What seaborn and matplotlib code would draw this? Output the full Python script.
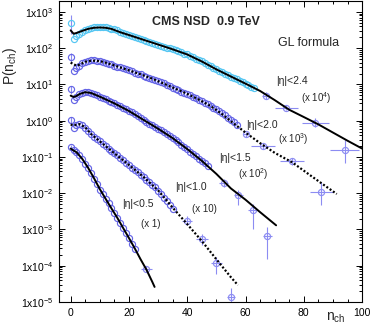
import numpy as np
import matplotlib
matplotlib.use("Agg")
import matplotlib.pyplot as plt
import seaborn as sns
from matplotlib.ticker import FuncFormatter, FixedLocator, MultipleLocator, NullFormatter

# ---------------- data ----------------
# |eta|<2.4 (x 10^4)
n24 = list(range(0, 64))
p24 = [490, 182, 214, 251, 288, 316, 339, 355, 372, 380, 380, 380, 372, 363, 347, 331,
       309, 288, 269, 251, 234, 219, 205, 192, 180, 170, 160, 150, 141, 133, 126, 118,
       111, 104, 98, 93, 87, 81, 76, 71, 67, 61, 56, 51, 47, 43, 39, 35, 32, 29, 26, 24,
       22, 19.8, 18.0, 16.5, 15.0, 13.7, 12.5, 11.4, 10.5, 9.5, 8.7, 7.9]
n24_sp = [67, 74, 84, 94]
p24_sp = [4.9, 2.3, 0.89, 0.16]
xe24_sp = [1.5, 4, 4.5, 5]
lo24_sp = [4.0, 2.0, 0.65, 0.07]
hi24_sp = [6.0, 2.7, 1.2, 0.30]
f24_n = [0, 1, 2, 4, 6, 8, 10, 12, 14, 17, 20, 25, 30, 35, 40, 45, 50, 55, 60, 65, 70, 75, 80, 85, 90, 95, 100]
f24_p = [310, 250, 262, 300, 340, 365, 372, 365, 340, 275, 230, 170, 126, 93, 67, 43, 26, 16.5,
         10.5, 6.6, 3.7, 2.0, 1.26, 0.79, 0.47, 0.28, 0.17]

# |eta|<2.0 (x 10^3)
n20 = list(range(0, 58))
p20 = [56, 23, 28, 33, 38, 42, 45, 46, 46, 45, 43, 41, 39, 37, 35.5, 33, 31, 29.5, 27.5, 26,
       24.5, 23, 21, 20, 19, 17.5, 16.3, 15.2, 14.4, 13.3, 12.3, 11.4, 10.7, 9.8, 8.9, 8.2,
       7.6, 6.9, 6.3, 5.9, 5.5, 5.0, 4.6, 4.2, 3.8, 3.45, 3.1, 2.8, 2.55, 2.3, 2.05, 1.8, 1.6,
       1.4, 1.2, 1.05, 0.92, 0.78]
n20_sp = [60, 66, 76, 86]
p20_sp = [0.42, 0.20, 0.076, 0.0105]
xe20_sp = [1, 4, 4, 4]
lo20_sp = [0.36, 0.17, 0.06, 0.0048]
hi20_sp = [0.50, 0.24, 0.095, 0.021]
f20_n = [0, 1, 2, 3, 5, 7, 9, 11, 14, 17, 20, 24, 28, 32, 36, 40, 44, 48, 52, 56, 60, 65, 70, 76, 82, 87, 91.3]
f20_p = [40, 36, 33, 35, 42, 45, 45, 42, 35.5, 29.5, 24.5, 19, 14.4, 10.5, 7.6, 5.5, 3.8, 2.55,
         1.5, 0.83, 0.47, 0.24, 0.13, 0.071, 0.032, 0.0166, 0.0095]

# |eta|<1.5 (x 10^2)
n15 = list(range(0, 48))
p15 = [7.4, 3.7, 4.5, 5.4, 5.9, 6.2, 6.0, 5.75, 5.4, 5.0, 4.6, 4.25, 3.9, 3.55, 3.3, 3.0,
       2.75, 2.5, 2.3, 2.05, 1.86, 1.70, 1.51, 1.35, 1.20, 1.05, 0.93, 0.83, 0.74, 0.68, 0.60,
       0.54, 0.48, 0.43, 0.38, 0.34, 0.29, 0.25, 0.22, 0.19, 0.166, 0.141, 0.123, 0.105,
       0.089, 0.078, 0.066, 0.056]
n15_sp = [52.5, 57.5, 62.5, 67.5]
p15_sp = [0.019, 0.0087, 0.0035, 0.00066]
xe15_sp = [1.5, 1.5, 1.5, 1.5]
lo15_sp = [0.015, 0.0048, 0.00105, 0.00015]
hi15_sp = [0.024, 0.0126, 0.0049, 0.00117]
f15_n = [0, 1, 2, 3, 5, 7, 10, 15, 20, 25, 30, 35, 40, 45, 50, 55, 60, 65, 70.5]
f15_p = [4.9, 4.5, 4.8, 5.4, 6.1, 5.8, 4.6, 3.0, 1.85, 1.05, 0.60, 0.33, 0.165, 0.078,
         0.034, 0.0135, 0.0066, 0.0030, 0.0013]

# |eta|<1.0 (x 10)
n10 = list(range(0, 36))
p10 = [1.05, 0.63, 0.76, 0.79, 0.74, 0.63, 0.51, 0.42, 0.36, 0.31, 0.27, 0.23, 0.20, 0.17,
       0.148, 0.126, 0.110, 0.093, 0.081, 0.069, 0.060, 0.051, 0.044, 0.038, 0.032, 0.0275,
       0.0234, 0.020, 0.017, 0.0145, 0.0117, 0.0095, 0.0076, 0.0060, 0.0048, 0.0037]
n10_sp = [40, 45, 50, 55]
p10_sp = [0.00174, 0.00054, 0.000115, 1.35e-5]
xe10_sp = [1.8, 2, 2, 1.5]
lo10_sp = [0.0013, 0.00038, 5.9e-5, 1.0e-5]
hi10_sp = [0.0023, 0.00075, 0.00017, 2.5e-5]
f10_n = [0, 1, 2, 3, 5, 7, 10, 15, 20, 25, 30, 35, 40, 45, 50, 55, 57.4]
f10_p = [0.78, 0.74, 0.78, 0.80, 0.66, 0.43, 0.27, 0.126, 0.060, 0.028, 0.012, 0.0040,
         0.0014, 0.00048, 0.00015, 4.8e-5, 2.9e-5]

# |eta|<0.5 (x 1)
n05 = list(range(0, 23))
p05 = [0.186, 0.158, 0.138, 0.112, 0.085, 0.063, 0.048, 0.036, 0.025, 0.0174, 0.0126,
       0.0093, 0.0071, 0.0054, 0.0039, 0.0028, 0.0021, 0.0015, 0.0011, 0.00081, 0.00059,
       0.00040, 0.00028]
n05_sp = [26]
p05_sp = [8.3e-5]
xe05_sp = [2]
lo05_sp = [7.0e-5]
hi05_sp = [1.0e-4]
f05_n = [0, 1, 2, 4, 6, 8, 10, 12, 14, 16, 18, 20, 22, 24, 26, 28, 28.8]
f05_p = [0.17, 0.15, 0.135, 0.088, 0.05, 0.026, 0.013, 0.0070, 0.0038, 0.0021, 0.0011,
         0.00058, 0.00030, 0.00015, 7.8e-5, 3.6e-5, 2.6e-5]

# first-bin error bars (n = 0)
first_lo = [250, 40, 5.5, 0.85, 0.16]
first_hi = [800, 72, 9.3, 1.25, 0.21]

labels = ["|η|<2.4", "|η|<2.0", "|η|<1.5", "|η|<1.0", "|η|<0.5"]
scales = ["(x 10$^4$)", "(x 10$^3$)", "(x 10$^2$)", "(x 10)", "(x 1)"]
x_ticks = [0, 20, 40, 60, 80, 100]
y_exps = [-5, -4, -3, -2, -1, 0, 1, 2, 3]

# ---------------- style ----------------
sns.set_theme(style="ticks")
plt.rcParams["font.family"] = ["Liberation Sans", "DejaVu Sans"]
plt.rcParams["mathtext.fontset"] = "custom"
plt.rcParams["mathtext.rm"] = "Liberation Sans"
plt.rcParams["mathtext.it"] = "Liberation Sans:italic"
plt.rcParams["mathtext.bf"] = "Liberation Sans:bold"

fig = plt.figure(figsize=(3.71, 3.30), dpi=100)
ax = fig.add_axes([0.159, 0.085, 0.817, 0.912])

c_cyan = "#55c6f2"
c_blue = "#6464e6"
c_err = "#8c8cf2"

series = [
    (n24, p24, n24_sp, p24_sp, xe24_sp, lo24_sp, hi24_sp, f24_n, f24_p, "-", c_cyan),
    (n20, p20, n20_sp, p20_sp, xe20_sp, lo20_sp, hi20_sp, f20_n, f20_p, ":", c_blue),
    (n15, p15, n15_sp, p15_sp, xe15_sp, lo15_sp, hi15_sp, f15_n, f15_p, "-", c_blue),
    (n10, p10, n10_sp, p10_sp, xe10_sp, lo10_sp, hi10_sp, f10_n, f10_p, ":", c_blue),
    (n05, p05, n05_sp, p05_sp, xe05_sp, lo05_sp, hi05_sp, f05_n, f05_p, "-", c_blue),
]

for i, (nd, pd_, ns, ps, xe, lo, hi, fn, fp, ls, col) in enumerate(series):
    # first bin error bar
    ax.errorbar([nd[0]], [pd_[0]], yerr=[[pd_[0] - first_lo[i]], [first_hi[i] - pd_[0]]],
                fmt="none", ecolor=c_err, elinewidth=0.8, zorder=2)
    # dense points
    sns.lineplot(x=nd, y=pd_, ax=ax, linestyle="none", marker="o", markersize=4.4,
                 mfc="none", mec=col, mew=0.85, zorder=3)
    # sparse points with error bars
    ps_arr = np.array(ps)
    yerr = [ps_arr - np.array(lo), np.array(hi) - ps_arr]
    ax.errorbar(ns, ps, xerr=xe, yerr=yerr, fmt="o", ms=4.4, mfc="none", mec=c_err,
                mew=0.85, ecolor=c_err, elinewidth=0.8, zorder=3)
    # GL formula curve
    if ls == ":":
        sns.lineplot(x=fn, y=fp, ax=ax, color="black", linewidth=1.6,
                     linestyle=(0, (0.9, 0.9)), zorder=4)
    else:
        sns.lineplot(x=fn, y=fp, ax=ax, color="black", linewidth=1.4, zorder=4)

ax.set_yscale("log")
ax.set_xlim(-4, 100)
ax.set_ylim(1e-5, 2e3)

ax.xaxis.set_major_locator(FixedLocator(x_ticks))
ax.xaxis.set_minor_locator(MultipleLocator(5))
ax.yaxis.set_major_locator(FixedLocator([10.0 ** e for e in y_exps]))
minor_y = [m * 10.0 ** e for e in range(-5, 4) for m in range(2, 10) if m * 10.0 ** e <= 2e3]
ax.yaxis.set_minor_locator(FixedLocator(minor_y))
ax.yaxis.set_minor_formatter(NullFormatter())
ax.yaxis.set_major_formatter(FuncFormatter(lambda v, p: r"1x10$^{%d}$" % int(round(np.log10(v)))))

ax.tick_params(which="both", direction="in", top=True, right=True, labelsize=7.5,
               colors="black", width=0.7)
ax.tick_params(which="major", length=4.5, pad=4)
ax.tick_params(which="minor", length=2.2)
for s in ax.spines.values():
    s.set_color("black")
    s.set_linewidth(0.8)

ax.set_xlabel("")
ax.set_ylabel("")
fig.text(0.028, 0.80, r"P(n$_{\rm ch}$)", rotation=90, fontsize=10, ha="center", va="center")
fig.text(0.905, 0.038, r"n$_{\rm ch}$", fontsize=10, ha="center", va="center")

# annotations
ax.text(27.8, 10**2.71, "CMS NSD  0.9 TeV", fontsize=9, fontweight="bold", ha="left", va="center")
ax.text(71, 10**2.13, "GL formula", fontsize=9, ha="left", va="center")
lab_pos = [(70.6, 1.10), (60.3, -0.12), (51.1, -1.04), (35.7, -1.82), (17.8, -2.31)]
sc_pos = [(79.2, 0.63), (71, -0.51), (57.3, -1.48), (41.5, -2.45), (24, -2.84)]
for lab, sc, (lx, ly), (sx, sy) in zip(labels, scales, lab_pos, sc_pos):
    ax.text(lx, 10**ly, lab, fontsize=7.5, ha="left", va="center")
    ax.text(sx, 10**sy, sc, fontsize=7, ha="left", va="center")

fig.savefig("out.png", dpi=100)
